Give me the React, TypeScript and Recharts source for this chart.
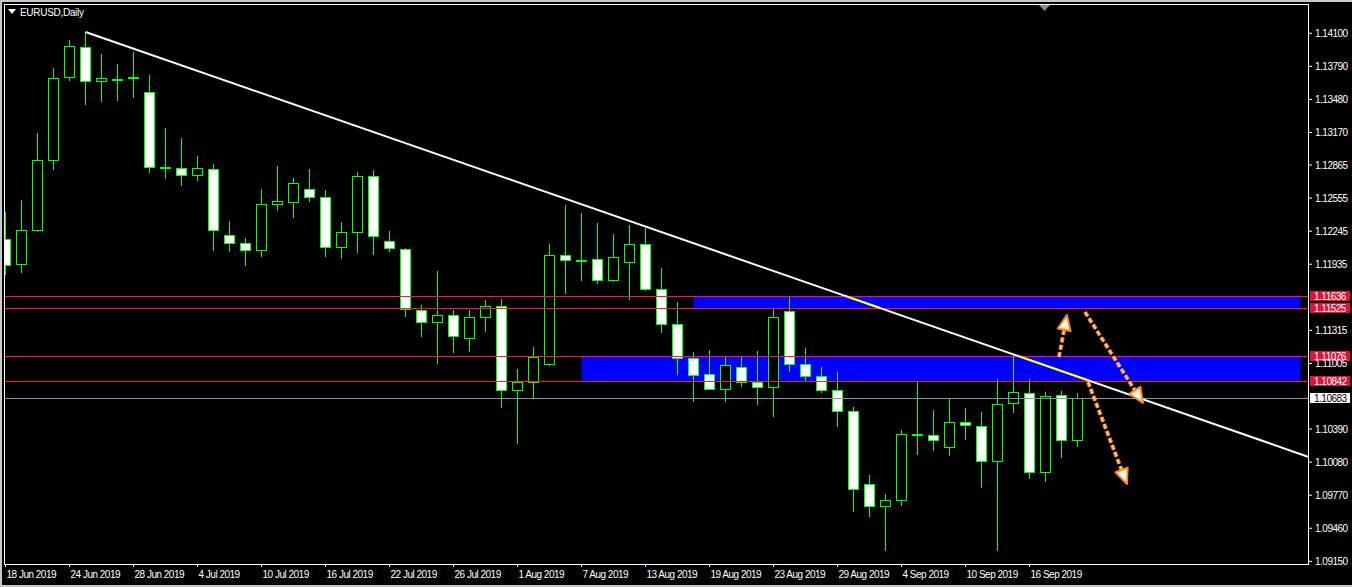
import React from 'react';
import { ComposedChart, Bar, XAxis, YAxis, ReferenceLine, ReferenceArea } from 'recharts';

const FONT = '"Liberation Sans", Arial, sans-serif';

const dates = [
  '18 Jun 2019', '19 Jun 2019', '20 Jun 2019', '21 Jun 2019', '24 Jun 2019', '25 Jun 2019', '26 Jun 2019', '27 Jun 2019',
  '28 Jun 2019', '1 Jul 2019', '2 Jul 2019', '3 Jul 2019', '4 Jul 2019', '5 Jul 2019', '8 Jul 2019', '9 Jul 2019',
  '10 Jul 2019', '11 Jul 2019', '12 Jul 2019', '15 Jul 2019', '16 Jul 2019', '17 Jul 2019', '18 Jul 2019', '19 Jul 2019',
  '22 Jul 2019', '23 Jul 2019', '24 Jul 2019', '25 Jul 2019', '26 Jul 2019', '29 Jul 2019', '30 Jul 2019', '31 Jul 2019',
  '1 Aug 2019', '2 Aug 2019', '5 Aug 2019', '6 Aug 2019', '7 Aug 2019', '8 Aug 2019', '9 Aug 2019', '12 Aug 2019',
  '13 Aug 2019', '14 Aug 2019', '15 Aug 2019', '16 Aug 2019', '19 Aug 2019', '20 Aug 2019', '21 Aug 2019', '22 Aug 2019',
  '23 Aug 2019', '26 Aug 2019', '27 Aug 2019', '28 Aug 2019', '29 Aug 2019', '30 Aug 2019', '2 Sep 2019', '3 Sep 2019',
  '4 Sep 2019', '5 Sep 2019', '6 Sep 2019', '9 Sep 2019', '10 Sep 2019', '11 Sep 2019', '12 Sep 2019', '13 Sep 2019',
  '16 Sep 2019', '17 Sep 2019', '18 Sep 2019', '19 Sep 2019',
];

const openP = [
  1.12169, 1.11934, 1.12253, 1.12915, 1.13688, 1.13969, 1.1365, 1.13672, 1.13679, 1.13547,
  1.12842, 1.12834, 1.12769, 1.12825, 1.12206, 1.12131, 1.12066, 1.12497, 1.12521, 1.12638,
  1.12563, 1.12094, 1.12234, 1.12759, 1.1215, 1.12075, 1.11503, 1.11391, 1.11456, 1.11241,
  1.11438, 1.11541, 1.10753, 1.10834, 1.10997, 1.12019, 1.11978, 1.11981, 1.11784, 1.11953,
  1.12122, 1.117, 1.11372, 1.11053, 1.10903, 1.10763, 1.10969, 1.10828, 1.10781, 1.11494,
  1.10997, 1.10884, 1.10753, 1.10556, 1.09872, 1.09666, 1.09722, 1.10339, 1.10331, 1.10219,
  1.10453, 1.10416, 1.10088, 1.10631, 1.10725, 1.09984, 1.10706, 1.10284,
];
const highP = [
  1.12425, 1.12537, 1.13165, 1.13775, 1.14037, 1.14115, 1.13906, 1.13812, 1.13928, 1.13709,
  1.13209, 1.13118, 1.1295, 1.12875, 1.1234, 1.12178, 1.1264, 1.12856, 1.12743, 1.12828,
  1.12631, 1.12331, 1.128, 1.12818, 1.12247, 1.12087, 1.1155, 1.11872, 1.11506, 1.11506,
  1.116, 1.11609, 1.10953, 1.11159, 1.12125, 1.1249, 1.12415, 1.12322, 1.12218, 1.12303,
  1.12272, 1.11897, 1.11578, 1.11109, 1.11128, 1.11063, 1.11063, 1.11119, 1.11515, 1.11634,
  1.11147, 1.10969, 1.10922, 1.10594, 1.09956, 1.09781, 1.10378, 1.10834, 1.10568, 1.10672,
  1.10587, 1.1055, 1.10859, 1.11084, 1.10859, 1.10734, 1.10744, 1.10725,
];
const lowP = [
  1.11834, 1.11856, 1.1224, 1.12818, 1.13656, 1.13428, 1.13459, 1.13468, 1.13496, 1.12793,
  1.12737, 1.12671, 1.12718, 1.12062, 1.12053, 1.11921, 1.12006, 1.12437, 1.12371, 1.12521,
  1.12006, 1.11987, 1.12043, 1.12024, 1.12053, 1.11443, 1.11256, 1.11003, 1.11106, 1.11115,
  1.11303, 1.1059, 1.10253, 1.10678, 1.10984, 1.11659, 1.11781, 1.11753, 1.11771, 1.11603,
  1.11687, 1.11293, 1.10899, 1.10646, 1.10753, 1.10646, 1.10787, 1.10618, 1.10506, 1.10928,
  1.10838, 1.10725, 1.10412, 1.09615, 1.09568, 1.09249, 1.09671, 1.10149, 1.10187, 1.1014,
  1.1029, 1.0984, 1.09249, 1.10543, 1.09919, 1.09891, 1.10121, 1.10219,
];
const closeP = [
  1.11928, 1.12253, 1.12909, 1.13678, 1.13978, 1.1365, 1.13678, 1.13676, 1.13688, 1.12844,
  1.12837, 1.12769, 1.12834, 1.12253, 1.12131, 1.12066, 1.12497, 1.12525, 1.12694, 1.12568,
  1.12094, 1.12234, 1.12759, 1.12197, 1.12084, 1.11513, 1.11391, 1.11456, 1.11259, 1.11438,
  1.11541, 1.10753, 1.10834, 1.11063, 1.12019, 1.11972, 1.1197, 1.11784, 1.12, 1.12122,
  1.117, 1.11372, 1.11053, 1.10894, 1.10763, 1.10988, 1.10828, 1.10781, 1.11438, 1.10997,
  1.10884, 1.10753, 1.10556, 1.09825, 1.09666, 1.09722, 1.10341, 1.10334, 1.10284, 1.10453,
  1.10425, 1.10088, 1.10622, 1.10734, 1.09984, 1.10697, 1.10284, 1.10683,
];

const dateTickIdx = [0, 4, 8, 12, 16, 20, 24, 28, 32, 36, 40, 44, 48, 52, 56, 60, 64];
const priceTicks = [
  1.141, 1.1379, 1.1348, 1.1317, 1.12865, 1.12555, 1.12245, 1.11935,
  1.11315, 1.11005, 1.1039, 1.1008, 1.0977, 1.0946, 1.0915,
];
const levels = [1.11636, 1.11525, 1.11076, 1.10842];
const zones = [
  { fromIdx: 43, toIdx: 80.95, top: 1.11636, bottom: 1.11525 },
  { fromIdx: 36, toIdx: 80.95, top: 1.11076, bottom: 1.10842 },
];
const currentPrice = 1.10683;
const trendStart = { x: 5, y: 1.14112 };
const trendEnd = { x: 81.406, y: 1.10131 };
const arrows = [
  { from: { x: 65.84, y: 1.11065 }, to: { x: 66.34, y: 1.11459 } },
  { from: { x: 67.47, y: 1.11487 }, to: { x: 71.09, y: 1.10634 } },
  { from: { x: 67.66, y: 1.10831 }, to: { x: 70.09, y: 1.09875 } },
];
const xDomain: [number, number] = [-0.03125, 81.40625];
const yDomain: [number, number] = [1.09125, 1.14365];

const rows = dates.map((d, i) => ({
  idx: i,
  date: d,
  open: openP[i],
  high: highP[i],
  low: lowP[i],
  close: closeP[i],
  range: [lowP[i], highP[i]],
}));

const xAtPrice = (p: number) =>
  trendStart.x + ((p - trendStart.y) * (trendEnd.x - trendStart.x)) / (trendEnd.y - trendStart.y);
const yellowSegments = zones
  .map((z) => [
    { x: xAtPrice(z.top), y: z.top },
    { x: xAtPrice(z.bottom), y: z.bottom },
  ])
  .filter((s, i) => s[0].x >= zones[i].fromIdx);

const Candle = (props: any) => {
  const { x, y, width, height, payload } = props;
  if (x == null || y == null || !payload) return null;
  const top = Math.min(y, y + height);
  const bot = Math.max(y, y + height);
  const { open, close, high, low } = payload;
  const span = high - low;
  const py = (v: number) => (span === 0 ? top : top + ((high - v) / span) * (bot - top));
  const cx = Math.floor(x + width / 2) + 0.5;
  const yO = py(open);
  const yC = py(close);
  const bTop = Math.round(Math.min(yO, yC)) + 0.5;
  const bBot = Math.max(Math.round(Math.max(yO, yC)) + 0.5, bTop + 1);
  const bull = close >= open;
  return (
    <g>
      <line x1={cx} x2={cx} y1={Math.round(top)} y2={Math.round(bot)} stroke="#00ff00" strokeWidth={1} />
      <rect x={cx - 5} y={bTop} width={10} height={bBot - bTop} fill={bull ? '#000000' : '#ffffff'} stroke="#00ff00" strokeWidth={1} />
    </g>
  );
};

const CrispHLine = (props: any) => {
  const { x1, x2, y1, stroke } = props;
  if ([x1, x2, y1].some((v) => v == null || Number.isNaN(v))) return null;
  const yy = Math.round(y1) + 0.5;
  return <line x1={x1} x2={x2} y1={yy} y2={yy} stroke={stroke} strokeWidth={1} shapeRendering="crispEdges" />;
};

const DateTick = (props: any) => {
  const { x, y, payload } = props;
  return (
    <text x={x + 1} y={y + 5} fill="#ffffff" fontSize={10} letterSpacing={-0.5} fontFamily={FONT} dominantBaseline="central">
      {dates[payload.value] ?? ''}
    </text>
  );
};

const PriceTick = (props: any) => {
  const { x, y, payload } = props;
  return (
    <text x={x} y={y} fill="#ffffff" fontSize={10} letterSpacing={-0.5} fontFamily={FONT} dominantBaseline="central">
      {Number(payload.value).toFixed(5)}
    </text>
  );
};

const PriceTag = (props: any) => {
  const { viewBox, price, bg, fg } = props;
  if (!viewBox) return null;
  const x = viewBox.x + viewBox.width + 2;
  const y = Math.round(viewBox.y);
  return (
    <g>
      <rect x={x} y={y - 5} width={40} height={10} fill={bg} />
      <text x={x + 4} y={y + 0.5} fill={fg} fontSize={10} letterSpacing={-0.5} fontFamily={FONT} dominantBaseline="central">
        {Number(price).toFixed(5)}
      </text>
    </g>
  );
};

const ArrowShape = (props: any) => {
  const { x1, y1, x2, y2 } = props;
  if ([x1, y1, x2, y2].some((v) => v == null || Number.isNaN(v))) return null;
  const dx = x2 - x1;
  const dy = y2 - y1;
  const L = Math.hypot(dx, dy) || 1;
  const ux = dx / L;
  const uy = dy / L;
  const head = 15;
  const hw = 6.5;
  const bx = x2 - ux * head;
  const by = y2 - uy * head;
  const px = -uy;
  const py = ux;
  return (
    <g>
      <line x1={x1} y1={y1} x2={bx} y2={by} stroke="#ff8a1c" strokeWidth={4} strokeDasharray="5 2.5" />
      <line x1={x1} y1={y1} x2={bx} y2={by} stroke="#ffd8a8" strokeWidth={1.2} strokeDasharray="5 2.5" />
      <polygon
        points={`${x2},${y2} ${bx + px * hw},${by + py * hw} ${bx - px * hw},${by - py * hw}`}
        fill="#fff6ec"
        stroke="#ff8a1c"
        strokeWidth={2}
        strokeLinejoin="round"
      />
    </g>
  );
};

export default function App() {
  return (
    <div style={{ position: 'relative', width: 1352, height: 587, background: '#000000', overflow: 'hidden' }}>
      <style>{'body{margin:0;background:#000;}'}</style>
      <ComposedChart
        width={1352}
        height={587}
        data={rows}
        margin={{ top: 5, right: 0, bottom: 0, left: 5 }}
        style={{ position: 'absolute', left: 0, top: 0 }}
      >
        <XAxis
          dataKey="idx"
          type="number"
          domain={xDomain}
          allowDataOverflow
          ticks={dateTickIdx}
          interval={0}
          height={23}
          axisLine={false}
          tickLine={{ stroke: '#ffffff' }}
          tickSize={3}
          tickMargin={2}
          tick={<DateTick />}
        />
        <YAxis
          orientation="right"
          type="number"
          domain={yDomain}
          allowDataOverflow
          ticks={priceTicks}
          interval={0}
          width={44}
          axisLine={false}
          tickLine={{ stroke: '#ffffff' }}
          tickSize={4}
          tickMargin={3}
          tick={<PriceTick />}
        />
        {zones.map((z, i) => (
          <ReferenceArea
            key={`zone-${i}`}
            x1={z.fromIdx}
            x2={z.toIdx}
            y1={z.bottom}
            y2={z.top}
            fill="#0000ff"
            fillOpacity={1}
            stroke="none"
            ifOverflow="visible"
            zIndex={50}
          />
        ))}
        <Bar dataKey="range" barSize={10} shape={<Candle />} isAnimationActive={false} zIndex={300} />
        {levels.map((v, i) => (
          <ReferenceLine
            key={`lvl-${i}`}
            y={v}
            stroke="#ff1438"
            ifOverflow="visible"
            zIndex={400}
            shape={<CrispHLine />}
            label={<PriceTag price={v} bg="#dc143c" fg="#ffffff" />}
          />
        ))}
        <ReferenceLine
          y={currentPrice}
          stroke="#8494a8"
          ifOverflow="visible"
          zIndex={400}
          shape={<CrispHLine />}
          label={<PriceTag price={currentPrice} bg="#ffffff" fg="#000000" />}
        />
        <ReferenceLine
          segment={[trendStart, trendEnd]}
          stroke="#ffffff"
          strokeWidth={2}
          ifOverflow="visible"
          zIndex={450}
        />
        {yellowSegments.map((s, i) => (
          <ReferenceLine key={`yel-${i}`} segment={s} stroke="#ffff00" strokeWidth={2} ifOverflow="visible" zIndex={460} />
        ))}
        {arrows.map((a, i) => (
          <ReferenceLine key={`arr-${i}`} segment={[a.from, a.to]} ifOverflow="visible" zIndex={470} shape={<ArrowShape />} />
        ))}
      </ComposedChart>
      {/* plot frame */}
      <div
        style={{
          position: 'absolute',
          left: 4,
          top: 4,
          width: 1305,
          height: 561,
          boxSizing: 'border-box',
          border: '1px solid #ffffff',
          pointerEvents: 'none',
        }}
      />
      {/* window border */}
      <div
        style={{
          position: 'absolute',
          left: 0,
          top: 0,
          width: 1352,
          height: 587,
          boxSizing: 'border-box',
          borderTop: '2px solid #c8c8c8',
          borderLeft: '2px solid #c8c8c8',
          borderBottom: '2px solid #c8c8c8',
          pointerEvents: 'none',
        }}
      />
      {/* title */}
      <svg style={{ position: 'absolute', left: 8, top: 9 }} width={9} height={6}>
        <polygon points="0,0 8,0 4,5" fill="#ffffff" />
      </svg>
      <div
        style={{
          position: 'absolute',
          left: 20,
          top: 6,
          color: '#ffffff',
          fontFamily: FONT,
          fontSize: 10,
          letterSpacing: -0.3,
          lineHeight: '13px',
          whiteSpace: 'nowrap',
        }}
      >
        EURUSD,Daily
      </div>
      {/* chart shift marker */}
      <svg style={{ position: 'absolute', left: 1039, top: 5 }} width={12} height={7}>
        <polygon points="0,0 11,0 5.5,6" fill="#8a8a8a" />
      </svg>
    </div>
  );
}
